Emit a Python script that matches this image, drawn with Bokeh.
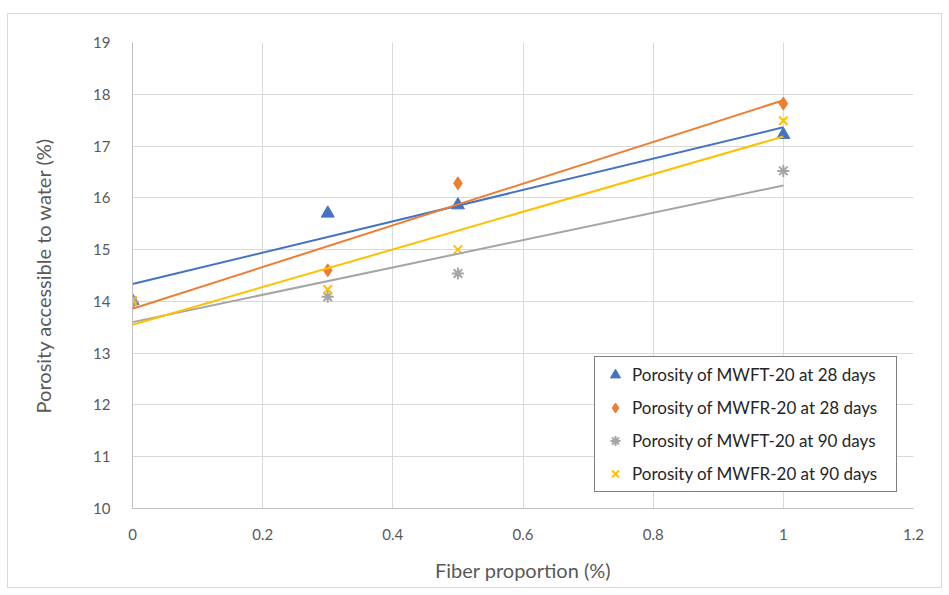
import numpy as np
from bokeh.plotting import figure
from bokeh.models import FixedTicker, CustomJSTickFormatter, Legend, LegendItem, Range1d
from bokeh.embed import file_html
from bokeh.resources import INLINE

# ---- data ----
fiber = [0.0, 0.3, 0.5, 1.0]
mwft_28 = [14.01, 15.70, 15.86, 17.22]
mwfr_28 = [13.98, 14.60, 16.28, 17.82]
mwft_90 = [14.00, 14.09, 14.54, 16.52]
mwfr_90 = [14.02, 14.23, 15.00, 17.49]
labels = ["Porosity of MWFT-20 at 28 days", "Porosity of MWFR-20 at 28 days",
          "Porosity of MWFT-20 at 90 days", "Porosity of MWFR-20 at 90 days"]
x_ticks = [0, 0.2, 0.4, 0.6, 0.8, 1.0, 1.2]
y_ticks = [10, 11, 12, 13, 14, 15, 16, 17, 18, 19]

FONT = "Lato"
TXT = "#595959"

p = figure(width=935, height=575, output_backend="svg", toolbar_location=None,
           x_range=Range1d(0, 1.2), y_range=Range1d(10, 19),
           min_border_left=124, min_border_right=30, min_border_top=28, min_border_bottom=81)
p.outline_line_color = None
p.styles = {"border": "1px solid #d9d9d9", "margin-left": "7px", "margin-top": "13px"}

p.xaxis.ticker = FixedTicker(ticks=x_ticks)
p.yaxis.ticker = FixedTicker(ticks=y_ticks)
p.xaxis.formatter = CustomJSTickFormatter(code="return Number(tick.toFixed(1)).toString();")
for ax in (p.xaxis, p.yaxis):
    ax.major_tick_line_color = None
    ax.minor_tick_line_color = None
    ax.axis_line_color = "#bfbfbf"
    ax.major_label_text_font = FONT
    ax.major_label_text_font_size = "15px"
    ax.major_label_text_color = TXT
    ax.axis_label_text_font = FONT
    ax.axis_label_text_font_size = "20px"
    ax.axis_label_text_color = TXT
    ax.axis_label_text_font_style = "normal"
p.xaxis.axis_label = "Fiber proportion (%)"
p.yaxis.axis_label = "Porosity accessible to water (%)"
p.xaxis.major_label_standoff = 14
p.yaxis.major_label_standoff = 16
p.xaxis.axis_label_standoff = 15
p.yaxis.axis_label_standoff = 35
p.grid.grid_line_color = "#d9d9d9"
p.grid.grid_line_width = 1

colors = ["#4472C4", "#ED7D31", "#A5A5A5", "#FFC000"]
series = [mwft_28, mwfr_28, mwft_90, mwfr_90]
markers = ["triangle", "diamond", "asterisk", "x"]
sizes = [13, 13, 12, 12]

scat = []
for ys, c, m, s, lab in zip(series, colors, markers, sizes, labels):
    kw = dict(line_width=2) if m in ("asterisk", "x") else dict(line_color=c)
    r = p.scatter(fiber, ys, marker=m, size=s, color=c, **kw)
    scat.append((lab, r))

fx = np.array([0.0, 1.0])
for ys, c in zip(series, colors):
    k, b = np.polyfit(fiber, ys, 1)
    p.line(fx, k * fx + b, line_color=c, line_width=2)

legend = Legend(items=[LegendItem(label=l, renderers=[r]) for l, r in scat],
                location="bottom_right")
legend.border_line_color = "black"
legend.border_line_width = 1.5
legend.label_text_font = FONT
legend.label_text_font_size = "17px"
legend.label_text_color = "#262626"
legend.glyph_width = 30
legend.glyph_height = 25
legend.label_standoff = 2
legend.spacing = 8
legend.label_height = 25
legend.label_width = 259
legend.padding = 5
legend.margin = 16
legend.background_fill_alpha = 1
p.add_layout(legend, "center")

open("out.html", "w").write(file_html(p, INLINE))
